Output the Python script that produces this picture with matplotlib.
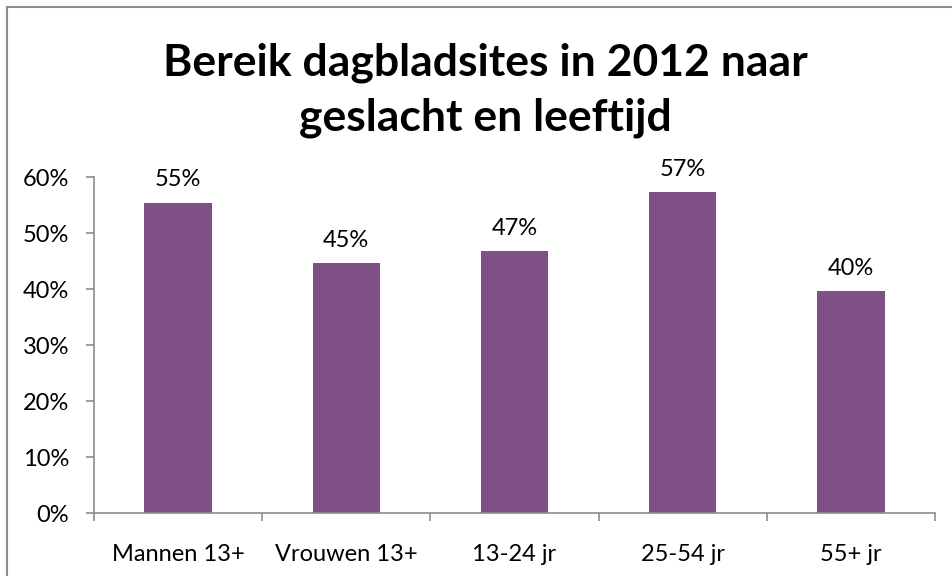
import matplotlib
matplotlib.use("Agg")
import matplotlib.pyplot as plt
from matplotlib.patches import Rectangle

categories = ["Mannen 13+", "Vrouwen 13+", "13-24 jr", "25-54 jr", "55+ jr"]
values = [0.554, 0.446, 0.468, 0.573, 0.396]
yticks = [0, 0.1, 0.2, 0.3, 0.4, 0.5, 0.6]
ytick_labels = ["0%", "10%", "20%", "30%", "40%", "50%", "60%"]
title = "Bereik dagbladsites in 2012 naar\ngeslacht en leeftijd"

plt.rcParams['font.family'] = ['Lato', 'DejaVu Sans']

W, H = 953, 576
fig = plt.figure(figsize=(W / 100, H / 100), dpi=100)
fig.patches.append(Rectangle((7 / W, -0.1), 1.2, (H - 7) / H + 0.1, transform=fig.transFigure,
                             fill=False, edgecolor="#8c8c8c", linewidth=1.5))

ax = fig.add_axes([94 / W, (H - 513) / H, (935 - 94) / W, (513 - 177) / H])
x = list(range(len(categories)))
ax.bar(x, values, width=0.4, color="#7F5086")
for xi, v in zip(x, values):
    ax.text(xi, v + 0.022, f"{round(v * 100):d}%", ha="center", va="bottom", fontsize=17)

ax.set_xlim(-0.5, len(categories) - 0.5)
ax.set_ylim(0, 0.6)
ax.set_yticks(yticks)
ax.set_yticklabels(ytick_labels, fontsize=17)
ax.set_xticks(x)
ax.set_xticklabels(categories, fontsize=17)
ax.tick_params(axis="x", length=0, pad=22)
ax.set_xticks([i - 0.5 for i in range(len(categories) + 1)], minor=True)
ax.tick_params(axis="x", which="minor", length=6, color="#8c8c8c", width=1.2)
ax.tick_params(axis="y", length=6, color="#8c8c8c", width=1.2, pad=12)
for s in ["top", "right"]:
    ax.spines[s].set_visible(False)
for s in ["left", "bottom"]:
    ax.spines[s].set_color("#8c8c8c")
    ax.spines[s].set_linewidth(1.2)

fig.text(485 / W, 1 - 90 / H, title, ha="center", va="center", fontsize=32,
         fontweight="bold", linespacing=1.45)

fig.savefig("out.png", dpi=100)
